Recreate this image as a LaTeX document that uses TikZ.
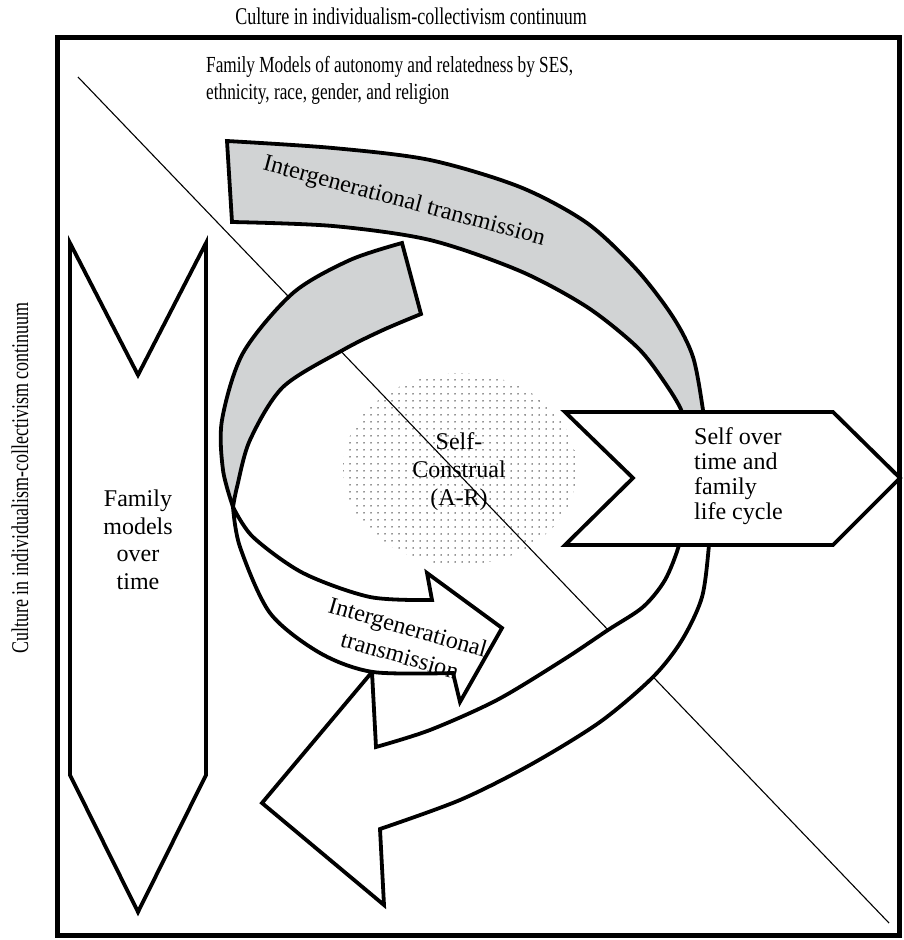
\documentclass[tikz,border=0pt]{standalone}
\usepackage{fontspec}
\setmainfont{Liberation Serif}
\newfontfamily\condfont[FakeStretch=0.75]{Liberation Serif}
\usetikzlibrary{patterns.meta}
\definecolor{bandgray}{RGB}{209,211,212}

\begin{document}
\begin{tikzpicture}[
  x=1pt, y=-1pt,
  ribbon/.style  = {line width=3.8pt, line join=miter},
  grayband/.style  = {ribbon, fill=bandgray},
  whiteband/.style = {ribbon, fill=white},
  bodytext/.style  = {font=\fontsize{24}{25}\selectfont, inner sep=0pt},
  axistext/.style  = {font=\condfont\fontsize{24}{27}\selectfont, inner sep=0pt},
]
\useasboundingbox (0,0) rectangle (903,940);

%--- continuum diagonal (behind everything) ---
\coordinate (dstart) at (78,77);
\coordinate (dend)   at (889,923);
\draw[line width=1.1pt] (dstart) -- (dend);

%--- self core (dotted) ---
\fill[pattern={Dots[distance=7pt, radius=0.75pt]}, pattern color=black!85]
  (460,469) ellipse [x radius=117, y radius=96];
\node[bodytext, align=center, font=\fontsize{24}{28}\selectfont] (self) at (459,472)
  {Self-\\Construal\\(A-R)};

%--- outer ribbon, gray top part ---
\filldraw[grayband]
  plot[smooth] coordinates {(227,141) (333,148) (430,160) (520,187) (587,223)
    (637,270) (673,317) (693,357) (703,410) (706,440)}
  -- plot[smooth] coordinates {(684,440) (682,412) (663,380) (637,347)
    (587,307) (520,271) (430,240) (333,226) (232,222)}
  -- cycle;
\node[bodytext, rotate=-15] (toptrans) at (404,202) {Intergenerational transmission};

%--- inner ribbon, gray part down to the twist ---
\filldraw[grayband]
  plot[smooth] coordinates {(402,243) (350,260) (293,293) (243,353) (222,420)
    (223,470) (233,507)}
  -- plot[smooth] coordinates {(233,507) (237,487) (250,440) (283,387)
    (343,350) (383,330) (421,314)}
  -- cycle;

%--- outer ribbon, white part with big arrow head ---
\filldraw[whiteband]
  plot[smooth] coordinates {(681,520) (679,545) (665,580) (643,607) (608,630)
    (563,660) (497,700) (430,730) (376,747)}
  -- (372,672) -- (262,803) -- (384,905) -- (380,829)
  -- plot[smooth] coordinates {(380,829) (460,800) (530,765) (600,722)
    (653,677) (682,640) (702,597) (709,545) (710,520)}
  -- cycle;

%--- inner ribbon, white arrow ---
\filldraw[whiteband]
  plot[smooth] coordinates {(233,507) (253,537) (303,573) (370,597) (432,600)}
  -- (427,573) -- (502,628) -- (460,702) -- (453,673)
  -- plot[smooth] coordinates {(453,673) (373,672) (320,653) (270,613)
    (240,547) (233,507)}
  -- cycle;
\node[bodytext, rotate=-16, align=center, font=\fontsize{24}{29}\selectfont]
  (lowtrans) at (404,641) {Intergenerational\\transmission};

%--- self over time (pentagon) ---
\filldraw[ribbon, fill=white] (565,412) -- (633,478) -- (565,545) -- (833,545)
  -- (900,478) -- (833,412) -- cycle;
\node[bodytext, align=left, anchor=west] (selftime) at (694,476)
  {Self over\\time and\\family\\life cycle};

%--- family models over time (down arrow) ---
\draw[ribbon] (70,243) -- (138,375) -- (206,243) -- (206,775) -- (138,912)
  -- (70,775) -- cycle;
\node[bodytext, align=center, font=\fontsize{24}{27.5}\selectfont] (famtime) at (138,540)
  {Family\\models\\over\\time};

%--- frame and axis texts ---
\draw[line width=5pt] (57,37) rectangle (899,935);
\node[axistext] (topaxis) at (411,16) {Culture in individualism-collectivism continuum};
\node[axistext, rotate=90] (sideaxis) at (20,478) {Culture in individualism-collectivism continuum};
\node[axistext, align=left, anchor=west, font=\condfont\fontsize{23}{27}\selectfont]
  (fammodels) at (206,80)
  {Family Models of autonomy and relatedness by SES,\\ethnicity, race, gender, and religion};
\end{tikzpicture}
\end{document}
